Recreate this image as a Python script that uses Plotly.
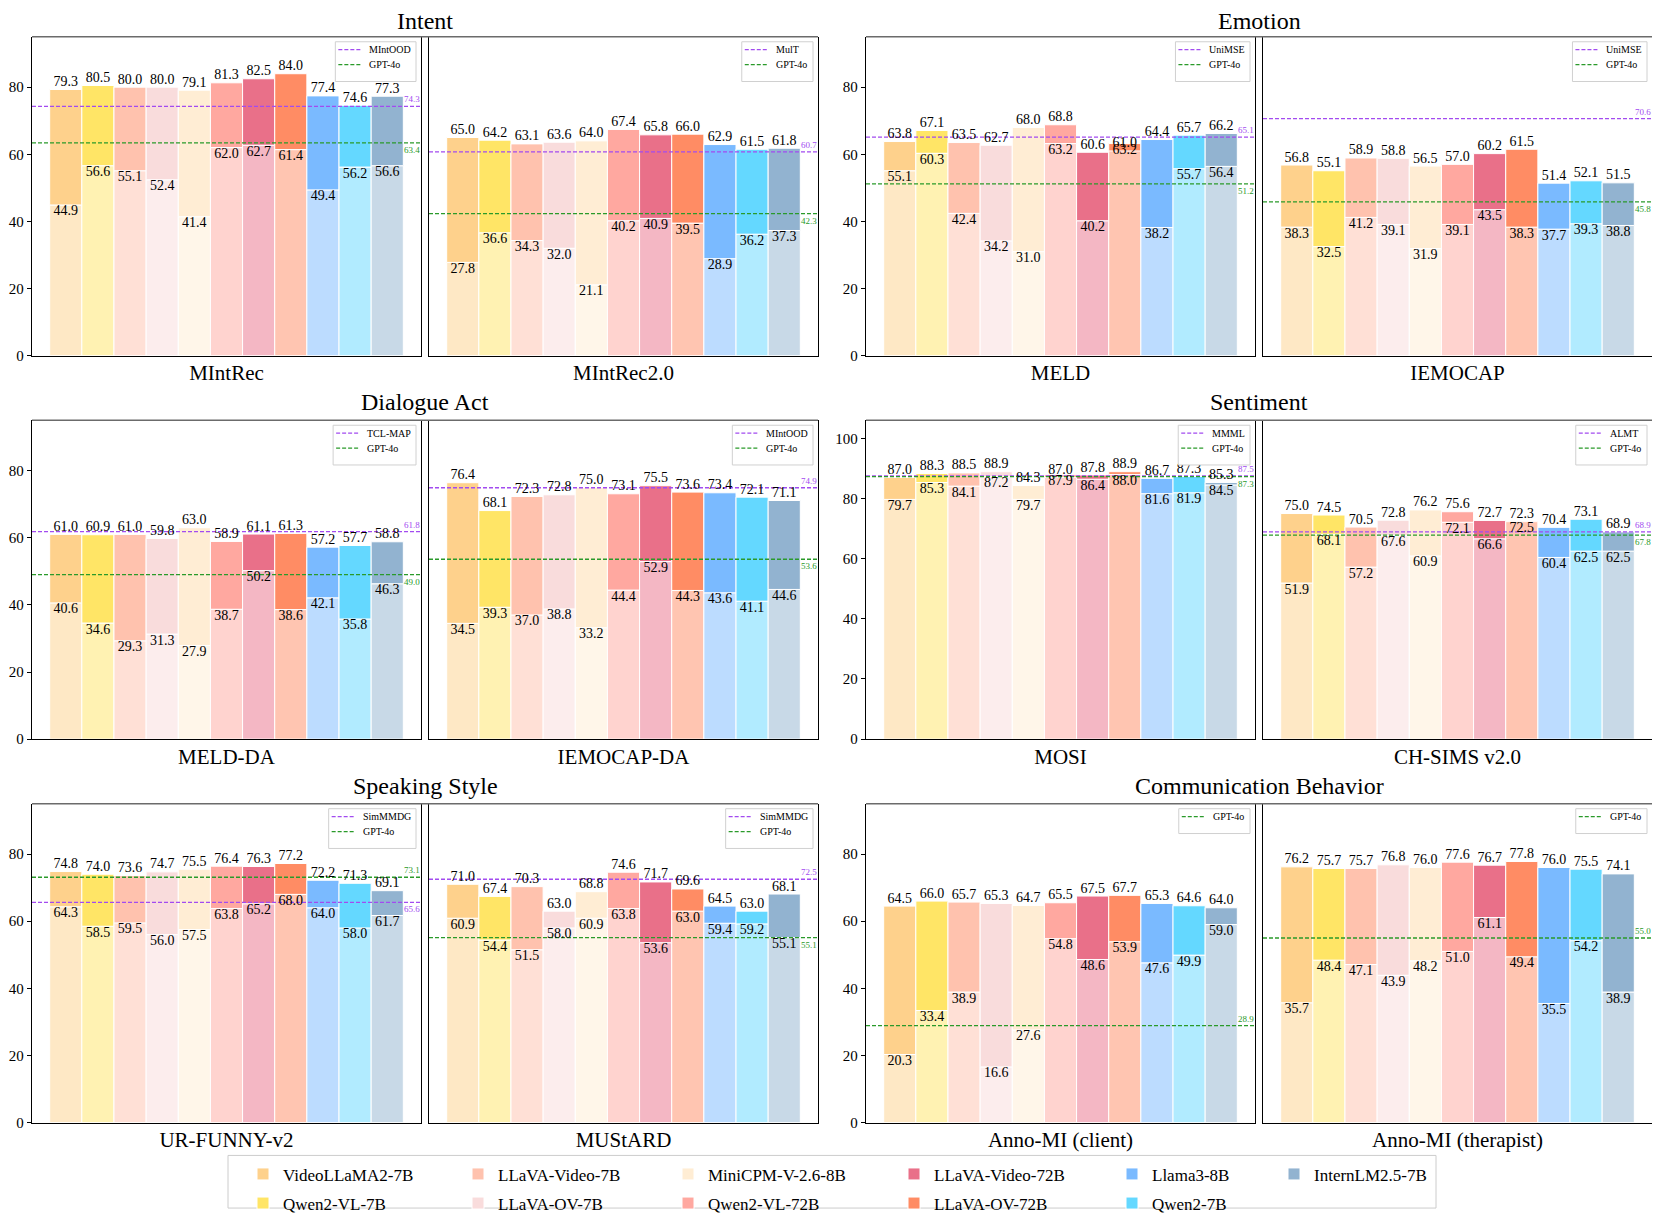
import plotly.graph_objects as go

# models and colours (legend colours = upper, fine-tuned segment)
models = ["VideoLLaMA2-7B", "Qwen2-VL-7B", "LLaVA-Video-7B", "LLaVA-OV-7B",
          "MiniCPM-V-2.6-8B", "Qwen2-VL-72B", "LLaVA-Video-72B", "LLaVA-OV-72B",
          "Llama3-8B", "Qwen2-7B", "InternLM2.5-7B"]
colors = ["#FED18C", "#FFE566", "#FFC2AE", "#F9DCDC", "#FFEDD4", "#FFA8A0",
          "#E97089", "#FF8C64", "#7ABAFF", "#64D8FF", "#92B3D0"]

# top value (fine-tuned) and lower value (zero-shot) for every dataset
mintrec_top = [79.3, 80.5, 80.0, 80.0, 79.1, 81.3, 82.5, 84.0, 77.4, 74.6, 77.3]
mintrec_zs = [44.9, 56.6, 55.1, 52.4, 41.4, 62.0, 62.7, 61.4, 49.4, 56.2, 56.6]
mintrec2_top = [65.0, 64.2, 63.1, 63.6, 64.0, 67.4, 65.8, 66.0, 62.9, 61.5, 61.8]
mintrec2_zs = [27.8, 36.6, 34.3, 32.0, 21.1, 40.2, 40.9, 39.5, 28.9, 36.2, 37.3]
meld_top = [63.8, 67.1, 63.5, 62.7, 68.0, 68.8, 60.6, 61.0, 64.4, 65.7, 66.2]
meld_zs = [55.1, 60.3, 42.4, 34.2, 31.0, 63.2, 40.2, 63.2, 38.2, 55.7, 56.4]
iemocap_top = [56.8, 55.1, 58.9, 58.8, 56.5, 57.0, 60.2, 61.5, 51.4, 52.1, 51.5]
iemocap_zs = [38.3, 32.5, 41.2, 39.1, 31.9, 39.1, 43.5, 38.3, 37.7, 39.3, 38.8]
meldda_top = [61.0, 60.9, 61.0, 59.8, 63.0, 58.9, 61.1, 61.3, 57.2, 57.7, 58.8]
meldda_zs = [40.6, 34.6, 29.3, 31.3, 27.9, 38.7, 50.2, 38.6, 42.1, 35.8, 46.3]
iemocapda_top = [76.4, 68.1, 72.3, 72.8, 75.0, 73.1, 75.5, 73.6, 73.4, 72.1, 71.1]
iemocapda_zs = [34.5, 39.3, 37.0, 38.8, 33.2, 44.4, 52.9, 44.3, 43.6, 41.1, 44.6]
mosi_top = [87.0, 88.3, 88.5, 88.9, 84.3, 87.0, 87.8, 88.9, 86.7, 87.3, 85.3]
mosi_zs = [79.7, 85.3, 84.1, 87.2, 79.7, 87.9, 86.4, 88.0, 81.6, 81.9, 84.5]
chsims_top = [75.0, 74.5, 70.5, 72.8, 76.2, 75.6, 72.7, 72.3, 70.4, 73.1, 68.9]
chsims_zs = [51.9, 68.1, 57.2, 67.6, 60.9, 72.1, 66.6, 72.5, 60.4, 62.5, 62.5]
urfunny_top = [74.8, 74.0, 73.6, 74.7, 75.5, 76.4, 76.3, 77.2, 72.2, 71.3, 69.1]
urfunny_zs = [64.3, 58.5, 59.5, 56.0, 57.5, 63.8, 65.2, 68.0, 64.0, 58.0, 61.7]
mustard_top = [71.0, 67.4, 70.3, 63.0, 68.8, 74.6, 71.7, 69.6, 64.5, 63.0, 68.1]
mustard_zs = [60.9, 54.4, 51.5, 58.0, 60.9, 63.8, 53.6, 63.0, 59.4, 59.2, 55.1]
client_top = [64.5, 66.0, 65.7, 65.3, 64.7, 65.5, 67.5, 67.7, 65.3, 64.6, 64.0]
client_zs = [20.3, 33.4, 38.9, 16.6, 27.6, 54.8, 48.6, 53.9, 47.6, 49.9, 59.0]
therapist_top = [76.2, 75.7, 75.7, 76.8, 76.0, 77.6, 76.7, 77.8, 76.0, 75.5, 74.1]
therapist_zs = [35.7, 48.4, 47.1, 43.9, 48.2, 51.0, 61.1, 49.4, 35.5, 54.2, 38.9]

# reference lines: (name, value)
mintrec_refs = [("MIntOOD", 74.3), ("GPT-4o", 63.4)]
mintrec2_refs = [("MulT", 60.7), ("GPT-4o", 42.3)]
meld_refs = [("UniMSE", 65.1), ("GPT-4o", 51.2)]
iemocap_refs = [("UniMSE", 70.6), ("GPT-4o", 45.8)]
meldda_refs = [("TCL-MAP", 61.8), ("GPT-4o", 49.0)]
iemocapda_refs = [("MIntOOD", 74.9), ("GPT-4o", 53.6)]
mosi_refs = [("MMML", 87.5), ("GPT-4o", 87.3)]
chsims_refs = [("ALMT", 68.9), ("GPT-4o", 67.8)]
urfunny_refs = [("SimMMDG", 65.6), ("GPT-4o", 73.1)]
mustard_refs = [("SimMMDG", 72.5), ("GPT-4o", 55.1)]
client_refs = [("GPT-4o", 28.9)]
therapist_refs = [("GPT-4o", 55.0)]

tasks = ["Intent", "Emotion", "Dialogue Act", "Sentiment", "Speaking Style", "Communication Behavior"]
subplots = [
    ("MIntRec", mintrec_top, mintrec_zs, mintrec_refs),
    ("MIntRec2.0", mintrec2_top, mintrec2_zs, mintrec2_refs),
    ("MELD", meld_top, meld_zs, meld_refs),
    ("IEMOCAP", iemocap_top, iemocap_zs, iemocap_refs),
    ("MELD-DA", meldda_top, meldda_zs, meldda_refs),
    ("IEMOCAP-DA", iemocapda_top, iemocapda_zs, iemocapda_refs),
    ("MOSI", mosi_top, mosi_zs, mosi_refs),
    ("CH-SIMS v2.0", chsims_top, chsims_zs, chsims_refs),
    ("UR-FUNNY-v2", urfunny_top, urfunny_zs, urfunny_refs),
    ("MUStARD", mustard_top, mustard_zs, mustard_refs),
    ("Anno-MI (client)", client_top, client_zs, client_refs),
    ("Anno-MI (therapist)", therapist_top, therapist_zs, therapist_refs),
]

FONT = "Liberation Serif, Times New Roman, serif"
# page body adds an 8px margin, so the figure is laid out 8px in
OFF = 8
W, H = 1660 - OFF, 1225 - OFF
LINE_COLORS = {"GPT-4o": "#2A9A2A"}
BASE_COLOR = "#A24BF0"
DASH = "4px,2px"

# pixel layout of the panels (page pixels)
col_px = [(32, 421, 429, 818), (866, 1255, 1263, 1652)]
row_px = [(37, 358), (423, 744), (809, 1130)]
title_px = [21, 405, 791]
panel_ymax = [95, 95, 95, 106, 95, 95]
XR = [-1.05, 11.05]

# rough Times glyph widths (em) for sizing the small legend boxes
GLYPH = {"M": .889, "I": .333, "n": .5, "t": .278, "O": .722, "D": .722, "G": .722,
         "P": .556, "T": .611, "-": .333, "4": .5, "o": .5, "u": .5, "l": .278,
         "U": .722, "i": .278, "S": .556, "E": .611, "C": .667, "L": .611,
         "A": .722, "m": .778}


def fx(p):
    return (p - OFF) / W


def fy(p):
    return 1 - (p - OFF) / H


def light(hexc, a=0.5):
    r, g, b = int(hexc[1:3], 16), int(hexc[3:5], 16), int(hexc[5:7], 16)
    return "rgb(%d,%d,%d)" % (r * a + 255 * (1 - a), g * a + 255 * (1 - a), b * a + 255 * (1 - a))


fig = go.Figure()
layout = {}
shapes = []
annotations = []
pos = list(range(len(models)))

for k, (ds, top, zs, refs) in enumerate(subplots):
    panel, side = divmod(k, 2)
    row, col = divmod(panel, 2)
    l0, r0, l1, r1 = col_px[col]
    left, right = (l0, r0) if side == 0 else (l1, r1)
    t, b = row_px[row]
    ymax = panel_ymax[panel]
    sfx = "" if k == 0 else str(k + 1)
    xa, ya = "x" + sfx, "y" + sfx

    for i in pos:
        fig.add_trace(go.Bar(
            x=[i], y=[zs[i]], base=[0], width=1.0, xaxis=xa, yaxis=ya,
            marker=dict(color=light(colors[i]), line=dict(color="white", width=1)),
            showlegend=False, hoverinfo="skip"))
        fig.add_trace(go.Bar(
            x=[i], y=[top[i] - zs[i]], base=[zs[i]], width=1.0, xaxis=xa, yaxis=ya,
            marker=dict(color=colors[i], line=dict(color="white", width=1)),
            name=models[i], legendgroup=models[i],
            legend="legend%d" % (2 + i // 2), showlegend=(k == 0), hoverinfo="skip"))

    # reference lines and their small legend box
    vals = [v for _, v in refs]
    twidth = max(sum(GLYPH.get(ch, .5) for ch in name) for name, _ in refs) * 10
    bx1 = right - 5
    bx0 = bx1 - (3 + 22 + 8 + twidth + 6)
    by0 = t + 5
    by1 = by0 + 8 + 15 * len(refs) + 2
    shapes.append(dict(type="rect", xref="paper", yref="paper",
                       x0=fx(bx0), x1=fx(bx1), y0=fy(by1), y1=fy(by0),
                       line=dict(color="#d0d0d0", width=1), fillcolor="white"))
    for j, (name, v) in enumerate(refs):
        c = LINE_COLORS.get(name, BASE_COLOR)
        fig.add_trace(go.Scatter(
            x=XR, y=[v, v], mode="lines", xaxis=xa, yaxis=ya, name=name, showlegend=False,
            line=dict(color=c, width=1.3, dash=DASH), hoverinfo="skip"))
        above = (v == max(vals))
        annotations.append(dict(
            text="%.1f" % v, xref=xa, yref=ya, x=XR[1], y=v, showarrow=False,
            xanchor="right", yanchor="bottom" if above else "top",
            xshift=1, font=dict(family=FONT, size=9, color=c)))
        ly = by0 + 8 + 15 * j
        shapes.append(dict(type="line", xref="paper", yref="paper",
                           x0=fx(bx0 + 3), x1=fx(bx0 + 25), y0=fy(ly), y1=fy(ly),
                           line=dict(color=c, width=1.3, dash=DASH)))
        annotations.append(dict(
            text=name, xref="paper", yref="paper", x=fx(bx0 + 32), y=fy(ly),
            xanchor="left", yanchor="middle", showarrow=False,
            font=dict(family=FONT, size=10, color="black")))

    # value labels
    fig.add_trace(go.Scatter(
        x=pos, y=top, mode="text", text=["%.1f" % v for v in top], xaxis=xa, yaxis=ya,
        textposition="top center", textfont=dict(family=FONT, size=14, color="black"),
        showlegend=False, cliponaxis=False, hoverinfo="skip"))
    fig.add_trace(go.Scatter(
        x=pos, y=zs, mode="text", text=["%.1f" % v for v in zs], xaxis=xa, yaxis=ya,
        textposition="bottom center", textfont=dict(family=FONT, size=14, color="black"),
        showlegend=False, cliponaxis=False, hoverinfo="skip"))

    layout["xaxis" + sfx] = dict(
        domain=[fx(left), fx(right)], range=XR, anchor=ya, showticklabels=False,
        ticks="", showgrid=False, zeroline=False, showline=True, linecolor="black",
        linewidth=1.3, title=dict(text=ds, font=dict(family=FONT, size=21, color="black"),
                                  standoff=9))
    yax = dict(domain=[fy(b), fy(t)], range=[0, ymax], anchor=xa, showgrid=False,
               zeroline=False, showline=True, mirror=True, linecolor="black", linewidth=1.3)
    if side == 0:
        yax.update(ticks="outside", ticklen=4, tickcolor="black",
                   tickvals=list(range(0, ymax, 20)),
                   tickfont=dict(family=FONT, size=15, color="black"))
    else:
        yax.update(showticklabels=False, ticks="", matches="y" + ("" if k == 1 else str(k)))
    layout["yaxis" + sfx] = yax

    if side == 0:
        shapes.append(dict(type="line", xref="paper", yref="paper",
                           x0=fx(l0), x1=fx(r1), y0=fy(t), y1=fy(t),
                           line=dict(color="#6b6b6b", width=1.5)))
        annotations.append(dict(text=tasks[panel], xref="paper", yref="paper",
                                x=fx((l0 + r1) / 2), y=fy(title_px[row]), showarrow=False,
                                xanchor="center", yanchor="middle",
                                font=dict(family=FONT, size=24, color="black")))

# bottom legend: six columns of two entries
text_x = [283, 498, 708, 934, 1152, 1314]
for c in range(6):
    layout["legend%d" % (2 + c)] = dict(
        x=fx(text_x[c] - 40), y=fy(1164), xanchor="left", yanchor="top",
        orientation="v", bgcolor="rgba(0,0,0,0)", tracegroupgap=4,
        font=dict(family=FONT, size=17, color="black"))
shapes.append(dict(type="rect", xref="paper", yref="paper", layer="below",
                   x0=fx(228), x1=fx(1436), y0=fy(1216), y1=fy(1163),
                   line=dict(color="#cccccc", width=1), fillcolor="white"))

fig.update_layout(
    width=W, height=H, margin=dict(l=0, r=0, t=0, b=0),
    paper_bgcolor="white", plot_bgcolor="white", barmode="overlay",
    font=dict(family=FONT, color="black"), showlegend=True,
    shapes=shapes, annotations=annotations, **layout)

fig.write_html("out.html")
